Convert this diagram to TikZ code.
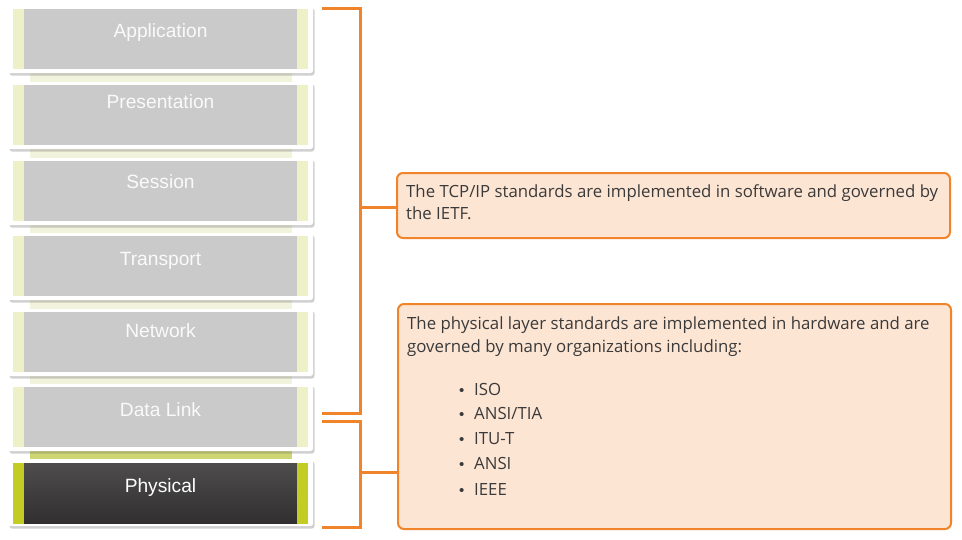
\documentclass[tikz,border=0pt]{standalone}
\usepackage{fontspec}
\setmainfont{Liberation Sans}
\newfontfamily\boxfont{Open Sans}
\usetikzlibrary{shadows}
\definecolor{orng}{HTML}{F0842A}
\definecolor{peach}{HTML}{FDE5D4}
\definecolor{txt}{HTML}{3A3A3A}
\definecolor{lgray}{HTML}{CACACA}
\definecolor{lstrip}{HTML}{EEF0C8}
\definecolor{gstrip}{HTML}{C2CC22}
\definecolor{dark}{HTML}{363434}
\definecolor{link}{HTML}{F2F3DC}
\definecolor{glink}{HTML}{CDD672}
\begin{document}
\begin{tikzpicture}[x=1pt,y=-1pt,
  card/.style={draw=none,fill=white,rounded corners=2.5pt,minimum width=305pt,minimum height=67pt,
    inner sep=0pt,outer sep=0pt,anchor=north west,
    drop shadow={shadow xshift=1.5pt,shadow yshift=-2.5pt,opacity=0.3,fill=black!60}},
  inner/.style={draw=none,fill=lgray,minimum width=274pt,minimum height=60pt,inner sep=0pt,anchor=north west},
  strip/.style={draw=none,fill=lstrip,minimum width=11pt,minimum height=60pt,inner sep=0pt,anchor=north west},
  layertxt/.style={font=\fontsize{19.2}{21}\selectfont,text=white!96!gray,anchor=base,inner sep=0pt},
  brk/.style={draw=orng,line width=3pt},
  infobox/.style={draw=orng,line width=2pt,fill=peach,rounded corners=6pt,anchor=north west,inner sep=0pt},
  infotxt/.style={font=\boxfont\fontsize{16.8}{20}\selectfont,text=txt,anchor=base west,inner sep=0pt},
  bullettxt/.style={font=\fontsize{15}{20}\selectfont,text=txt,anchor=base west,inner sep=0pt},
]
\useasboundingbox (0,0) rectangle (962,539);
\fill[white] (0,0) rectangle (962,539);

% connecting strips between cards
\foreach \y/\n in {73/a,149/b,225/c,300/d,376/e}
  \fill[link] (30,\y) rectangle (292,\y+10);
\fill[glink] (30,451) rectangle (292,460);

% cards
\foreach \n/\t/\lab/\ty in {app/6/Application/37.5,pres/82/Presentation/108.5,sess/158/Session/188,trans/233/Transport/265,net/309/Network/337.5,dl/384/Data Link/416.5}{
  \node[card] (card-\n) at (8,\t) {};
  \node[inner] (in-\n) at (23,\t+3) {};
  \node[strip] (ls-\n) at (13,\t+3) {};
  \node[strip] (rs-\n) at (297,\t+3) {};
  \node[layertxt] (txt-\n) at (160.5,\ty) {\lab};
}
\node[card] (card-phy) at (8,459) {};
\node[inner,fill=none,top color=dark!88!white,bottom color=dark!90!black] (in-phy) at (23,463) {};
\node[strip,fill=gstrip,minimum height=61pt] (ls-phy) at (13,463) {};
\node[strip,fill=gstrip,minimum height=61pt] (rs-phy) at (297,463) {};
\node[layertxt,text=white] (txt-phy) at (160.5,492.5) {Physical};

% info boxes
\node[infobox,minimum width=553pt,minimum height=65pt] (tcp) at (396,172) {};
\node[infobox,minimum width=553pt,minimum height=225pt] (phys) at (397,303) {};

\node[infotxt] (t1) at (406,197) {The TCP/IP standards are implemented in software and governed by};
\node[infotxt] (t2) at (406,219) {the IETF.};
\node[infotxt] (p1) at (407,329) {The physical layer standards are implemented in hardware and are};
\node[infotxt] (p2) at (407,352) {governed by many organizations including:};
\foreach \i/\s/\y in {1/ISO/395,2/ANSI\slash TIA/419.5,3/ITU-T/444.5,4/ANSI/469.5,5/IEEE/495}{
  \node[bullettxt] (bul\i) at (459,\y) {•};
  \node[infotxt] (it\i) at (474,\y) {\s};
}

% brackets
\coordinate (b1a) at (322,8);
\coordinate (b1b) at (360,8);
\coordinate (b1c) at (360,413);
\coordinate (b1d) at (322,413);
\draw[brk] (b1a) -- (b1b) -- (b1c) -- (b1d);
\coordinate (b1m) at (360,207);
\draw[brk] (b1m) -- (b1m -| tcp.west);

\coordinate (b2a) at (322,421);
\coordinate (b2b) at (360,421);
\coordinate (b2c) at (360,527);
\coordinate (b2d) at (322,527);
\draw[brk] (b2a) -- (b2b) -- (b2c) -- (b2d);
\coordinate (b2m) at (360,472);
\draw[brk] (b2m) -- (b2m -| phys.west);
\end{tikzpicture}
\end{document}
